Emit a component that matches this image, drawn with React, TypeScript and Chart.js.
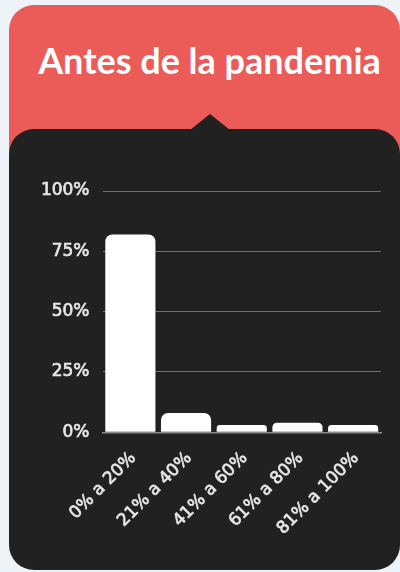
import React, { useEffect, useRef } from "react";
import { Chart, registerables } from "chart.js";

Chart.register(...registerables);

const TITLE = "Antes de la pandemia";
const categories = ["0% a 20%", "21% a 40%", "41% a 60%", "61% a 80%", "81% a 100%"];
const values = [82, 8, 3, 4, 3];
const yTickStep = 25;
const yMax = 100;

const PAGE_BG = "#eef3f8";
const RED = "#eb5b57";
const DARK = "#212121";
const TICK = "#e6e6e6";

export default function App() {
  const ref = useRef<HTMLCanvasElement | null>(null);

  useEffect(() => {
    if (!ref.current) return;
    const tickFont = { family: "'DejaVu Sans', sans-serif", size: 17, weight: "normal" as const };
    const chart = new Chart(ref.current, {
      type: "bar",
      data: {
        labels: categories,
        datasets: [
          {
            data: values,
            backgroundColor: "#ffffff",
            borderWidth: 0,
            borderRadius: 7,
            borderSkipped: "start",
            barPercentage: 0.9,
            categoryPercentage: 1.0,
          },
        ],
      },
      options: {
        responsive: false,
        animation: false,
        devicePixelRatio: 1,
        layout: { padding: { left: 0, right: 19, top: 62, bottom: 0 } },
        plugins: { legend: { display: false }, tooltip: { enabled: false } },
        scales: {
          x: {
            grid: { display: false, drawTicks: false },
            border: { display: true, color: "#8a8a8a", width: 1.5 },
            ticks: {
              color: TICK,
              font: tickFont,
              textStrokeColor: TICK,
              textStrokeWidth: 0.7,
              maxRotation: 45,
              minRotation: 45,
              autoSkip: false,
              padding: 16,
              labelOffset: 3,
            },
            afterFit: (s: any) => {
              s.height = 137.7;
            },
          },
          y: {
            min: 0,
            max: yMax,
            grid: { color: "#6e6e6e", lineWidth: 1, drawTicks: false },
            border: { display: false },
            ticks: {
              stepSize: yTickStep,
              color: TICK,
              font: tickFont,
              textStrokeColor: TICK,
              textStrokeWidth: 0.7,
              padding: 13,
              callback: (v: any) => `${v}%`,
            },
            afterFit: (s: any) => {
              s.width = 93.5;
            },
          },
        },
      },
    });
    return () => chart.destroy();
  }, []);

  return (
    <div
      style={{
        position: "fixed",
        left: 0,
        top: 0,
        width: 400,
        height: 572,
        background: PAGE_BG,
        overflow: "hidden",
      }}
    >
      <div
        style={{
          position: "absolute",
          left: 9,
          top: 5,
          width: 391,
          height: 200,
          background: RED,
          borderRadius: 25,
        }}
      />
      <div
        style={{
          position: "absolute",
          left: 9,
          top: 42,
          width: 401,
          textAlign: "center",
          color: "#ffffff",
          fontFamily: "Lato, 'Open Sans', sans-serif",
          fontWeight: 700,
          fontSize: 36,
          lineHeight: "36px",
          whiteSpace: "nowrap",
        }}
      >
        {TITLE}
      </div>
      <div
        style={{
          position: "absolute",
          left: 190,
          top: 114,
          width: 0,
          height: 0,
          borderLeft: "20px solid transparent",
          borderRight: "20px solid transparent",
          borderBottom: `16px solid ${DARK}`,
        }}
      />
      <div
        style={{
          position: "absolute",
          left: 9,
          top: 129,
          width: 391,
          height: 441,
          background: DARK,
          borderRadius: 25,
        }}
      />
      <canvas
        ref={ref}
        width={391}
        height={441}
        style={{ position: "absolute", left: 9, top: 129, width: 391, height: 441 }}
      />
    </div>
  );
}
